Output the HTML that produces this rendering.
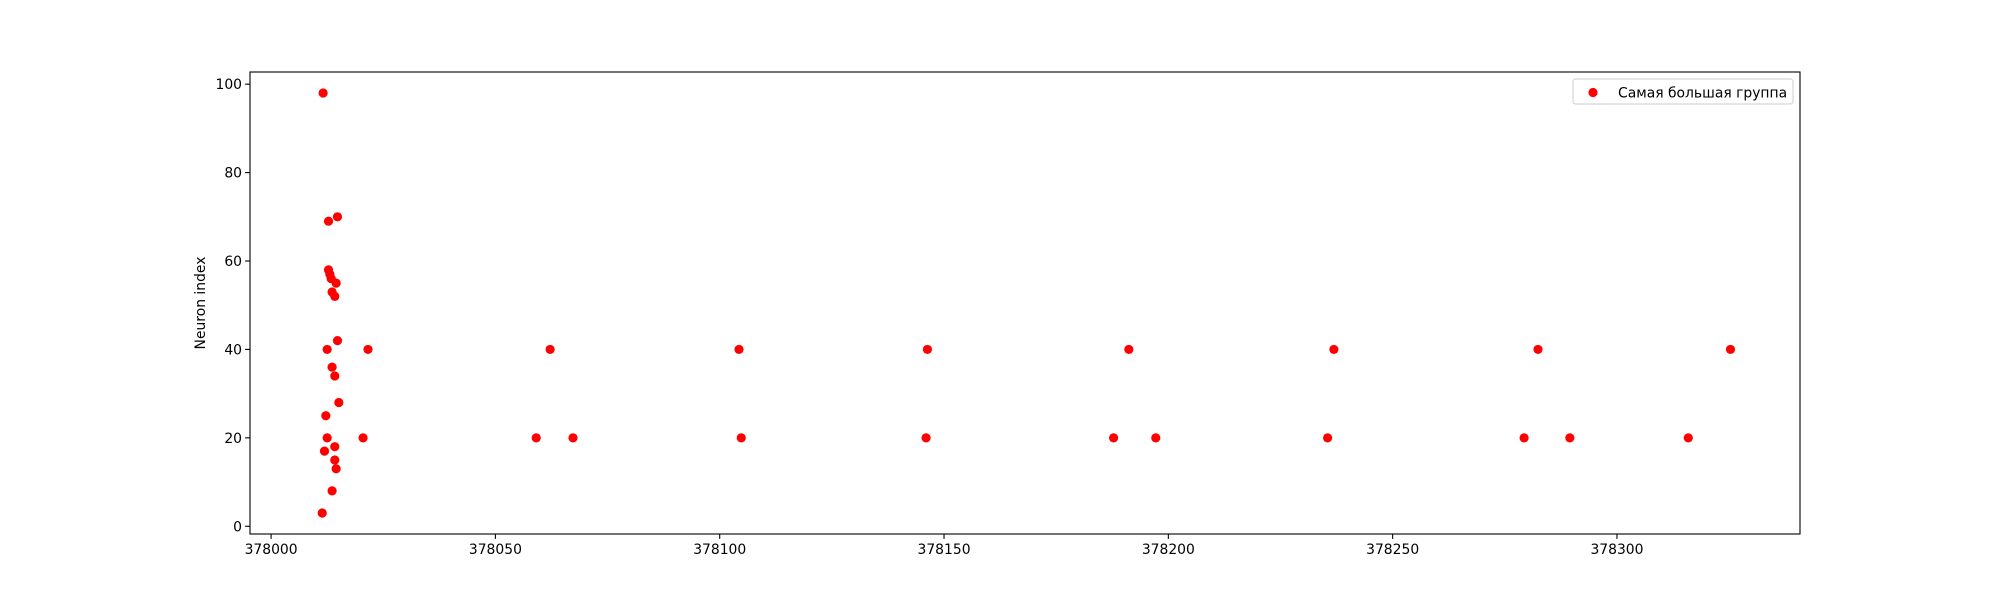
<!DOCTYPE html>
<html><head><meta charset="utf-8"><style>
html,body{margin:0;padding:0;background:#fff;}
svg{display:block;font-family:"DejaVu Sans","Liberation Sans",sans-serif;}
</style></head><body>
<svg id="chart" width="2000" height="600" xmlns="http://www.w3.org/2000/svg">
<rect width="2000" height="600" fill="#fff"/>
<g id="marks"></g>
<g id="axes"></g>
</svg>
<script>
const xValues = [378011.6,378011.4,378011.9,378012.2,378012.5,378012.5,378012.8,378012.8,378013.1,378013.4,378013.6,378013.6,378013.6,378014.2,378014.2,378014.2,378014.2,378014.5,378014.5,378014.8,378014.8,378015.1,378020.5,378021.6,378059.1,378062.2,378067.3,378104.3,378104.8,378146.3,378146.0,378187.8,378191.2,378197.2,378235.5,378236.9,378279.3,378282.4,378289.5,378315.9,378325.3];
const yValues = [98,3,17,25,20,40,69,58,57,56,8,36,53,52,34,18,15,55,13,42,70,28,20,40,20,40,20,40,20,40,20,20,40,20,20,40,20,40,20,20,40];
const xTicks = [378000,378050,378100,378150,378200,378250,378300];
const yTicks = [0,20,40,60,80,100];
const legendLabel = "Самая большая группа";

const L=250,R=1800,T=72,B=534;
const xMin=377995.3,xMax=378340.8,yMin=-1.75,yMax=102.75;
const xs=v=>L+(v-xMin)/(xMax-xMin)*(R-L);
const ys=v=>B-(v-yMin)/(yMax-yMin)*(B-T);
const NS="http://www.w3.org/2000/svg";
function mk(tag,attrs,parent){const e=document.createElementNS(NS,tag);for(const k in attrs)e.setAttribute(k,attrs[k]);parent.appendChild(e);return e;}
const marks=document.getElementById('marks'), axes=document.getElementById('axes');
xValues.forEach((x,i)=>{
  const c=mk('circle',{cx:xs(x),cy:ys(yValues[i]),r:4.6,fill:'#ff0000'},marks);
  
  
});
const frame=mk('rect',{x:L,y:T,width:R-L,height:B-T,fill:'none',stroke:'#000','stroke-width':1.1},axes);


xTicks.forEach(t=>{
  const x=xs(t);
  const tk=mk('line',{x1:x,x2:x,y1:B,y2:B+4.9,stroke:'#000','stroke-width':1.1},axes);
  
  
  const tx=mk('text',{x:x,y:B+20,'text-anchor':'middle','font-size':'13.9px',fill:'#000'},axes);
  tx.textContent=t;
  
  
});
yTicks.forEach(t=>{
  const y=ys(t);
  const tk=mk('line',{x1:L-4.9,x2:L,y1:y,y2:y,stroke:'#000','stroke-width':1.1},axes);
  
  
  const tx=mk('text',{x:L-8,y:y+5,'text-anchor':'end','font-size':'13.9px',fill:'#000'},axes);
  tx.textContent=t;
  
  
});
const yl=mk('text',{x:0,y:0,transform:'translate(205,303) rotate(-90)','text-anchor':'middle','font-size':'13.9px',fill:'#000'},axes);
yl.textContent='Neuron index';


const lg=mk('g',{},axes);


mk('rect',{x:1573,y:79,width:220,height:25,rx:2.5,fill:'#fff','fill-opacity':0.8,stroke:'#cccccc','stroke-width':1},lg);
const lm=mk('circle',{cx:1593,cy:92.5,r:4.6,fill:'#ff0000'},lg);


const lt=mk('text',{x:1618,y:97.5,'font-size':'13.9px',fill:'#000'},lg);
lt.textContent=legendLabel;


</script>
</body></html>
